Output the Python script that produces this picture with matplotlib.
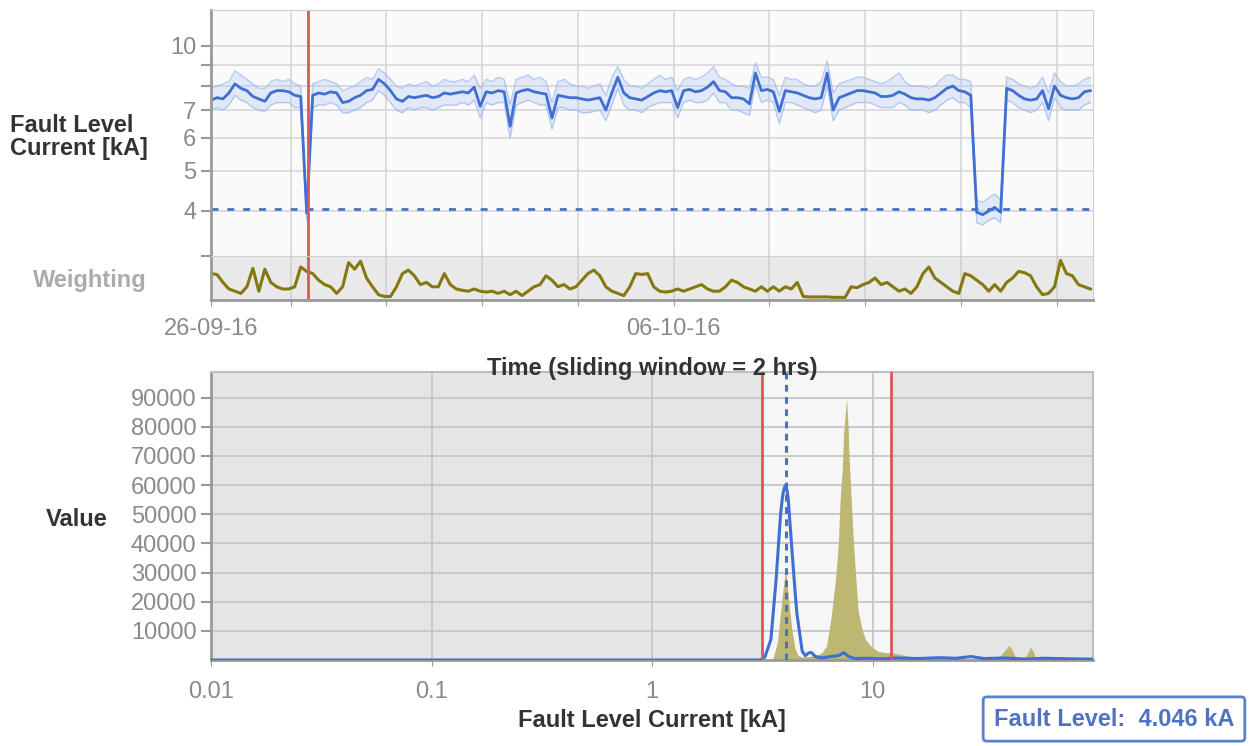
import matplotlib.pyplot as plt
import numpy as np

plt.rcParams['font.family'] = ['Liberation Sans', 'DejaVu Sans']

# Serie temporal (una muestra cada 3 horas desde 26-09-16)
hours = list(range(0, 444, 3))
fault_level = [
    7.4, 7.5, 7.45, 7.7, 8.1, 7.9, 7.8, 7.55, 7.45, 7.35, 7.7, 7.8, 7.8, 7.75, 7.6, 7.55,
    3.95,
    7.6, 7.7, 7.65, 7.75, 7.7, 7.3, 7.35, 7.5, 7.6, 7.8, 7.85, 8.3, 8.1, 7.8, 7.45, 7.35,
    7.55, 7.5, 7.55, 7.6, 7.5, 7.55, 7.7, 7.65, 7.7, 7.75, 7.7, 7.95, 7.15, 7.75, 7.7, 7.8, 7.75,
    6.4, 7.7, 7.8, 7.85, 7.75, 7.7, 7.65, 6.7, 7.6, 7.55, 7.5, 7.5, 7.45, 7.4, 7.45, 7.5,
    7.0, 7.7, 8.4, 7.7, 7.5, 7.45, 7.4, 7.55, 7.7, 7.8, 7.75, 7.8, 7.1, 7.8, 7.85, 7.75,
    7.8, 7.95, 8.2, 7.8, 7.75, 7.5, 7.5, 7.45, 7.25, 8.6, 7.8, 7.85, 7.75, 6.95, 7.8,
    7.75, 7.7, 7.6, 7.5, 7.45, 7.5, 8.6, 7.0, 7.5, 7.6, 7.7, 7.8, 7.8, 7.75, 7.7, 7.55,
    7.55, 7.6, 7.75, 7.65, 7.5, 7.45, 7.45, 7.4, 7.5, 7.7, 7.9, 8.0, 7.8, 7.75, 7.6,
    3.97, 3.92, 4.0, 4.08, 3.97,
    7.9, 7.8, 7.6, 7.45, 7.4, 7.45, 7.8, 7.05, 8.0, 7.6, 7.5, 7.45, 7.5, 7.75, 7.8,
]
fault_upper = [
    7.9, 8.0, 8.1, 8.2, 8.7, 8.5, 8.3, 8.1, 7.9, 7.9, 8.2, 8.3, 8.2, 8.3, 8.1, 8.0,
    4.15,
    8.1, 8.2, 8.3, 8.2, 8.1, 7.8, 7.9, 8.0, 8.2, 8.4, 8.3, 8.8, 8.6, 8.3, 8.0, 7.9,
    8.1, 8.0, 8.1, 8.2, 8.0, 8.1, 8.3, 8.2, 8.2, 8.3, 8.2, 8.5, 7.9, 8.3, 8.2, 8.4, 8.3,
    7.2, 8.3, 8.4, 8.5, 8.3, 8.4, 8.2, 7.3, 8.2, 8.3, 8.1, 8.0, 8.0, 7.9, 8.0, 8.1,
    7.6, 8.4, 8.9, 8.3, 8.0, 8.0, 7.9, 8.1, 8.3, 8.5, 8.3, 8.4, 7.8, 8.3, 8.4, 8.3,
    8.4, 8.6, 8.9, 8.4, 8.3, 8.1, 8.0, 8.0, 7.9, 9.1, 8.4, 8.4, 8.3, 7.6, 8.4,
    8.3, 8.3, 8.1, 8.0, 8.0, 8.2, 9.2, 7.7, 8.1, 8.2, 8.3, 8.4, 8.4, 8.3, 8.2, 8.1,
    8.2, 8.4, 8.6, 8.2, 8.0, 8.0, 8.0, 7.9, 8.0, 8.3, 8.5, 8.5, 8.3, 8.3, 8.2,
    4.25, 4.2, 4.3, 4.4, 4.25,
    8.4, 8.3, 8.1, 8.0, 7.9, 8.0, 8.4, 7.7, 8.6, 8.2, 8.0, 8.0, 8.1, 8.3, 8.4,
]
fault_lower = [
    7.0, 7.1, 7.0, 7.2, 7.6, 7.4, 7.3, 7.1, 7.0, 6.95, 7.2, 7.3, 7.3, 7.3, 7.1, 7.1,
    3.8,
    7.1, 7.2, 7.2, 7.3, 7.2, 6.9, 6.9, 7.0, 7.1, 7.3, 7.4, 7.8, 7.6, 7.3, 7.0, 6.9,
    7.1, 7.0, 7.1, 7.1, 7.0, 7.1, 7.2, 7.2, 7.2, 7.3, 7.2, 7.4, 6.7, 7.3, 7.2, 7.3, 7.3,
    6.0, 7.2, 7.3, 7.4, 7.3, 7.2, 7.2, 6.3, 7.1, 7.1, 7.0, 7.0, 6.9, 6.9, 6.95, 7.0,
    6.6, 7.2, 7.9, 7.2, 7.0, 7.0, 6.9, 7.1, 7.2, 7.3, 7.3, 7.3, 6.7, 7.3, 7.4, 7.3,
    7.3, 7.4, 7.7, 7.3, 7.3, 7.0, 7.0, 6.9, 6.8, 8.1, 7.3, 7.4, 7.3, 6.5, 7.3,
    7.3, 7.2, 7.1, 7.0, 6.9, 7.0, 8.0, 6.6, 7.0, 7.1, 7.2, 7.3, 7.3, 7.3, 7.2, 7.1,
    7.1, 7.1, 7.3, 7.2, 7.0, 7.0, 7.0, 6.9, 7.0, 7.2, 7.4, 7.5, 7.3, 7.3, 7.1,
    3.75, 3.7, 3.8, 3.85, 3.75,
    7.4, 7.3, 7.1, 7.0, 6.9, 7.0, 7.3, 6.6, 7.5, 7.1, 7.0, 7.0, 7.0, 7.2, 7.3,
]
weighting = [
    0.6, 0.58, 0.4, 0.25, 0.2, 0.15, 0.3, 0.72, 0.2, 0.7, 0.4, 0.3, 0.25, 0.25, 0.3, 0.75,
    0.65, 0.6, 0.45, 0.35, 0.3, 0.15, 0.3, 0.85, 0.7, 0.88, 0.5, 0.3, 0.12, 0.08, 0.08, 0.3,
    0.6, 0.68, 0.55, 0.35, 0.4, 0.3, 0.3, 0.6, 0.35, 0.25, 0.22, 0.2, 0.25, 0.2, 0.18, 0.2,
    0.15, 0.2, 0.12, 0.2, 0.1, 0.2, 0.3, 0.35, 0.55, 0.45, 0.3, 0.35, 0.25, 0.3, 0.45, 0.6,
    0.68, 0.55, 0.3, 0.2, 0.15, 0.1, 0.3, 0.6, 0.58, 0.6, 0.3, 0.2, 0.18, 0.2, 0.25, 0.2,
    0.25, 0.3, 0.35, 0.25, 0.2, 0.2, 0.3, 0.45, 0.4, 0.3, 0.25, 0.2, 0.3, 0.2, 0.3, 0.2,
    0.3, 0.25, 0.4, 0.08, 0.07, 0.07, 0.07, 0.07, 0.06, 0.06, 0.06, 0.3, 0.28, 0.35, 0.4, 0.5,
    0.35, 0.4, 0.3, 0.2, 0.25, 0.15, 0.3, 0.6, 0.75, 0.5, 0.4, 0.3, 0.2, 0.15, 0.6, 0.55,
    0.45, 0.35, 0.2, 0.35, 0.2, 0.4, 0.5, 0.65, 0.62, 0.55, 0.3, 0.12, 0.15, 0.3, 0.9, 0.6,
    0.55, 0.35, 0.3, 0.25,
]
fault_kA = 4.046
event_hour = 48.5
date_ticks = [0, 40, 88, 136, 184, 232, 280, 328, 376, 424]
date_labels = ['26-09-16', '', '', '', '', '06-10-16', '', '', '', '']

# Histograma (corriente en kA)
hist_x = [3.5, 3.55, 3.7, 3.8, 3.9, 4.0, 4.05, 4.1, 4.2, 4.3, 4.45, 4.6, 4.8, 5.1, 5.5, 5.9,
          6.2, 6.5, 6.8, 7.0, 7.1, 7.2, 7.3, 7.4, 7.55, 7.63, 7.75, 7.85, 7.95, 8.2, 8.6, 9.0,
          9.3, 9.9, 10.6, 11.5, 12.2, 13.2, 14.2, 15.5, 16.5, 18, 22, 30, 36, 38, 40, 41.6,
          43, 44.5, 47, 49.5, 51, 52, 53.5, 55, 60, 70, 72, 74, 80, 100]
hist_y = [0, 1000, 6000, 14000, 22000, 29000, 30000, 26000, 18000, 11000, 4000, 1500, 1000,
          1200, 1500, 2500, 5000, 15000, 28000, 40000, 52000, 60000, 66000, 78000, 86000, 89500,
          80000, 68000, 60000, 40000, 17000, 10000, 7000, 4500, 3000, 2500, 2500, 2000, 1500,
          800, 500, 300, 200, 200, 300, 1500, 3500, 5000, 3500, 1000, 600, 1200, 3000, 4500,
          3000, 600, 300, 200, 1000, 200, 100, 0]
curve_x = [0.01, 3.1, 3.25, 3.46, 3.65, 3.83, 3.9, 3.95, 4.0, 4.04, 4.1, 4.15, 4.3, 4.45,
           4.54, 4.8, 4.96, 5.15, 5.3, 5.5, 5.87, 6.5, 7.0, 7.4, 7.8, 8.3, 9.5, 11, 13, 16,
           20, 24, 28, 32, 40, 50, 60, 80, 100]
curve_y = [0, 0, 1000, 7000, 27000, 50000, 55500, 58000, 59500, 60000, 58000, 55000, 39000,
           24000, 16000, 3000, 1500, 2500, 2500, 1200, 700, 1200, 1500, 2500, 1200, 500, 600,
           400, 700, 500, 800, 600, 1200, 500, 700, 300, 600, 400, 300]
window_lo = 3.15
window_hi = 12.1

blue = '#3f6fd3'
red = '#d65a55'
olive = '#85780f'
tick_gray = '#8a8a8a'
W, H = 1259, 746
fs_tick = 17
fs_label = 17

fig = plt.figure(figsize=(W / 100, H / 100), dpi=100)
ax1 = fig.add_axes([211 / W, 1 - 256 / H, 882 / W, 246 / H])
ax2 = fig.add_axes([211 / W, 1 - 300 / H, 882 / W, 44 / H], sharex=ax1)
ax3 = fig.add_axes([211 / W, 1 - 660 / H, 882 / W, 288 / H])

# Panel superior: corriente de falla
ax1.set_facecolor('#fafafa')
ax1.fill_between(hours, fault_lower, fault_upper, color='#b3c9f3', alpha=0.35, lw=0)
ax1.plot(hours, fault_upper, color='#9cb8ee', lw=1, alpha=0.7)
ax1.plot(hours, fault_lower, color='#9cb8ee', lw=1, alpha=0.7)
ax1.plot(hours, fault_level, color=blue, lw=2)
ax1.axhline(fault_kA, color='#4d6fc4', lw=2, dashes=(2.5, 3.2))
ax1.axvline(event_hour, color=red, lw=2)
ax1.set_yscale('log')
ax1.set_ylim(3.116, 12.2)
ax1.set_xlim(0, 442.3)
ax1.set_yticks([4, 5, 6, 7, 8, 9, 10])
ax1.set_yticklabels(['4', '5', '6', '7', '', '', '10'])
ax1.yaxis.set_minor_locator(plt.NullLocator())
ax1.tick_params(axis='y', labelsize=fs_tick, colors='#999999', labelcolor=tick_gray, length=7, width=1.5)
ax1.tick_params(axis='x', bottom=False, labelbottom=False)
ax1.set_xticks(date_ticks)
ax1.grid(True, color='#d6d6d6', lw=1.2)
ax1.set_axisbelow(True)
for s in ['top', 'right', 'bottom']:
    ax1.spines[s].set_color('#cfcfcf')
ax1.spines['left'].set_color('#999999')
ax1.spines['left'].set_linewidth(2)

# Panel de ponderación
ax2.set_facecolor('#e9e9e9')
ax2.plot(hours, weighting, color=olive, lw=2.2)
ax2.axvline(event_hour, color=red, lw=2)
ax2.set_ylim(0, 1)
ax2.set_yticks([1])
ax2.set_yticklabels([''])
ax2.tick_params(axis='y', length=7, width=1.5, colors='#999999')
ax2.set_xticks(date_ticks)
ax2.set_xticklabels(date_labels)
ax2.tick_params(axis='x', length=4, colors='#999999', labelcolor=tick_gray, labelsize=fs_tick, pad=9)
ax2.grid(True, axis='x', color='#d0d0d0', lw=1.2)
ax2.set_axisbelow(True)
for s in ['top', 'right']:
    ax2.spines[s].set_color('#cfcfcf')
for s in ['left', 'bottom']:
    ax2.spines[s].set_color('#999999')
    ax2.spines[s].set_linewidth(2)

# Panel inferior: histograma
ax3.set_facecolor('#e5e5e5')
ax3.axvspan(window_lo, window_hi, color='#f6f6f6', zorder=0)
ax3.fill_between(hist_x, 0, hist_y, color='#bbb46b', alpha=0.95, lw=0, zorder=2)
ax3.plot(curve_x, curve_y, color=blue, lw=2.2, zorder=3)
ax3.axvline(fault_kA, color='#4d6fc4', lw=2.2, dashes=(2.2, 1.8), zorder=4)
ax3.axvline(window_lo, color=red, lw=2, zorder=4)
ax3.axvline(window_hi, color=red, lw=2, zorder=4)
ax3.set_xscale('log')
ax3.set_xlim(0.01, 100)
ax3.set_ylim(0, 98800)
ax3.set_xticks([0.01, 0.1, 1, 10])
ax3.set_xticklabels(['0.01', '0.1', '1', '10'])
ax3.xaxis.set_minor_locator(plt.NullLocator())
ax3.set_yticks(range(10000, 100000, 10000))
ax3.tick_params(axis='y', labelsize=fs_tick, colors='#999999', labelcolor=tick_gray, length=7, width=1.5)
ax3.tick_params(axis='x', labelsize=fs_tick, colors='#999999', labelcolor=tick_gray, length=4, pad=11)
ax3.grid(True, color='#c6c6c6', lw=1.3)
ax3.set_axisbelow(True)
for s in ['top', 'right']:
    ax3.spines[s].set_color('#bdbdbd')
    ax3.spines[s].set_linewidth(1.5)
for s in ['left', 'bottom']:
    ax3.spines[s].set_color('#999999')
    ax3.spines[s].set_linewidth(2)

# Textos
label = dict(fontsize=fs_label, fontweight='bold', color='#333333')
fig.text(10 / W, 1 - 137 / H, 'Fault Level\nCurrent [kA]', ha='left', va='center',
         linespacing=1.0, **label)
fig.text(90 / W, 1 - 280 / H, 'Weighting', ha='center', va='center', fontsize=fs_label,
         fontweight='bold', color='#ababab')
fig.text(652 / W, 1 - 369 / H, 'Time (sliding window = 2 hrs)', ha='center', va='center', **label)
fig.text(77 / W, 1 - 520 / H, 'Value', ha='center', va='center', **label)
fig.text(652 / W, 1 - 720 / H, 'Fault Level Current [kA]', ha='center', va='center', **label)
fig.text(1114 / W, 1 - 719 / H, f'Fault Level:  {fault_kA:.3f} kA', ha='center', va='center',
         fontsize=fs_label, fontweight='bold', color='#4f73c4',
         bbox=dict(boxstyle='round,pad=0.45,rounding_size=0.15', fc='white', ec='#5a82cc', lw=2))

fig.savefig('out.png', dpi=100)
